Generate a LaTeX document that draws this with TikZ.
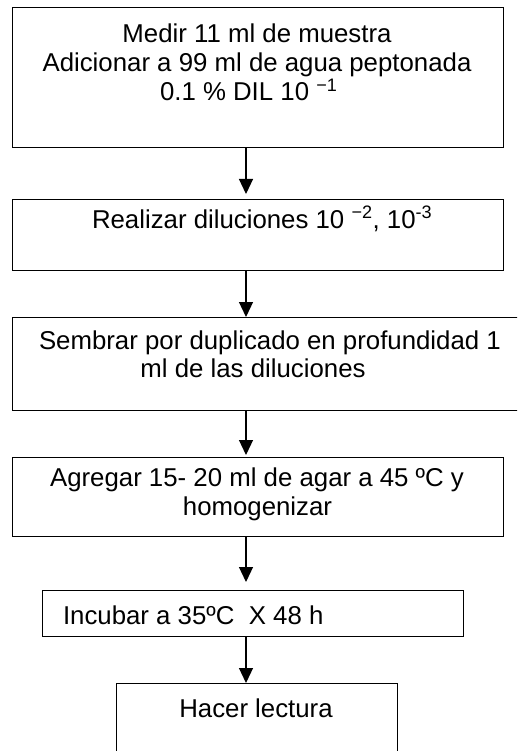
\documentclass[tikz,border=0pt]{standalone}
\usepackage{fontspec}
\setmainfont{Liberation Sans}
\usetikzlibrary{arrows.meta}
\begin{document}
\begin{tikzpicture}[x=1pt,y=-1pt,
  stepbox/.style={draw=black, line width=1pt, rectangle, inner sep=0pt, outer sep=0pt},
  txt/.style={inner sep=0pt, outer sep=0pt, font=\fontsize{25.8}{29}\selectfont},
  arr/.style={line width=1.2pt, -{Triangle[length=15pt,width=14pt]}}]
\useasboundingbox (0,0) rectangle (517,751);
\clip (0,0) rectangle (517,751);
% boxes
\node[stepbox, minimum width=491pt, minimum height=140pt] (b1) at (257.5,78) {};
\node[stepbox, minimum width=491pt, minimum height=70pt] (b2) at (257.5,235) {};
\node[stepbox, minimum width=518pt, minimum height=93pt] (b3) at (271,363.5) {};
\node[stepbox, minimum width=491pt, minimum height=79pt] (b4) at (257.5,496.5) {};
\node[stepbox, minimum width=421pt, minimum height=46pt] (b5) at (252.5,613) {};
\node[stepbox, minimum width=281pt, minimum height=87pt] (b6) at (256.5,726.5) {};
% texts
\node[txt, anchor=base] (t1a) at (257,43) {Medir 11 ml de muestra};
\node[txt, anchor=base] (t1b) at (257,72) {Adicionar a 99 ml de agua peptonada};
\node[txt, anchor=base west] (t1c) at (160,101) {0.1 \% DIL 10 \textsuperscript{−1}};
\node[txt, anchor=base west] (t2) at (92,228) {Realizar diluciones 10 \textsuperscript{−2}, 10\textsuperscript{-3}};
\node[txt, anchor=base west] (t3a) at (39,349) {Sembrar por duplicado en profundidad 1};
\node[txt, anchor=base] (t3b) at (253,377) {ml de las diluciones};
\node[txt, anchor=base] (t4a) at (257,486) {Agregar 15- 20 ml de agar a 45 ºC y};
\node[txt, anchor=base] (t4b) at (257.5,515) {homogenizar};
\node[txt, anchor=base west] (t5) at (63,624) {Incubar a 35ºC~ X 48 h};
\node[txt, anchor=base] (t6) at (256,717) {Hacer lectura};
% connectors
\coordinate (ax) at (246,0);
\draw[arr, shorten >=6pt] (b1.south -| ax) -- (b2.north -| ax);
\draw[arr] (b2.south -| ax) -- (b3.north -| ax);
\draw[arr, shorten >=2pt] (b3.south -| ax) -- (b4.north -| ax);
\draw[arr, shorten >=8pt] (b4.south -| ax) -- (b5.north -| ax);
\draw[arr] (b5.south -| ax) -- (b6.north -| ax);
\end{tikzpicture}
\end{document}
